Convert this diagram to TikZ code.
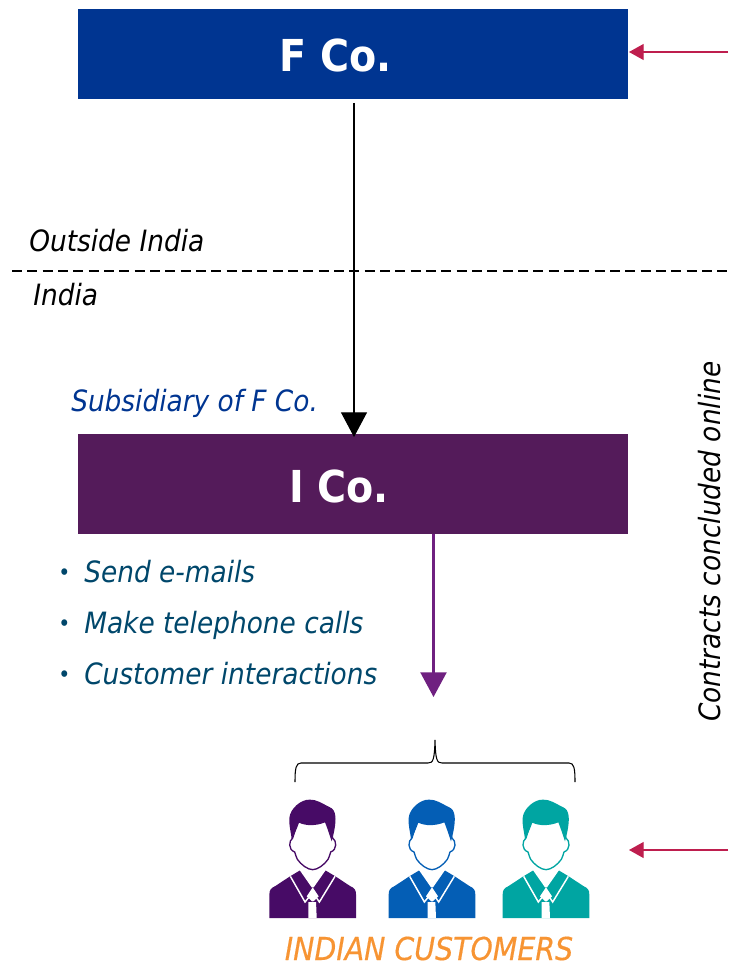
\documentclass[tikz,border=0pt]{standalone}
\usepackage{fontspec}
\setmainfont{DejaVu Sans Condensed}
\usetikzlibrary{arrows.meta}
\definecolor{fblue}{HTML}{003591}
\definecolor{ipurple}{HTML}{541B5A}
\definecolor{arrowpurple}{HTML}{6F2080}
\definecolor{crimson}{HTML}{BE1E4E}
\definecolor{bullettxt}{HTML}{00476B}
\definecolor{custorange}{HTML}{F79433}
\definecolor{pone}{HTML}{470B66}
\definecolor{ptwo}{HTML}{045EB5}
\definecolor{pthree}{HTML}{00A5A2}
\newcommand{\smallbullet}{\raisebox{1pt}{\fontsize{17}{20}\selectfont •}\hspace{10.5pt}}
\tikzset{
  x=0.75pt,y=-0.75pt,
  cobox/.style={rectangle,minimum width=412.5pt,inner sep=0pt,text=white},
  cotext/.style={inner sep=0pt,anchor=base,text=white,font=\fontsize{33}{36}\selectfont\bfseries},
  itlabel/.style={inner sep=0pt,anchor=base west,font=\fontsize{22}{26}\selectfont\itshape},
  bulletlabel/.style={itlabel,text=bullettxt},
  bigarrow/.style={-{Triangle[length=18.5pt,width=19.5pt]}},
  redarrow/.style={crimson,line width=0.9pt,-{Triangle[length=11pt,width=12pt]}},
}
\newcommand{\personicon}[3]{%
 \begin{scope}[shift={(#1,#2)},x=0.25pt,y=0.25pt]
  % body
  \fill[#3] (-130,0) -- (-130,70) .. controls (-130,85) and (-125,90) .. (-112,96) -- (-68,125) -- (-38,143) -- (38,143) -- (68,125) -- (112,96) .. controls (125,90) and (130,85) .. (130,70) -- (130,0) -- cycle;
  % neck and shirt
  \fill[white] (-40,145) -- (-3,92) -- (3,92) -- (40,145) -- cycle;
  % collar lines
  \draw[white,line width=1.1pt] (-67,125) -- (-23,48) -- (-3,73);
  \draw[white,line width=1.1pt] (67,125) -- (20,48) -- (3,73);
  % tie
  \fill[white] (0,92) -- (-18,65) -- (-2,50) -- (2,50) -- (18,65) -- cycle;
  \fill[white] (-13,48) -- (10,48) -- (12,0) -- (-13,0) -- cycle;
  % head
  \filldraw[fill=white,draw=#3,line width=1pt] (-60,240) .. controls (-72,232) and (-74,205) .. (-54,198) .. controls (-50,188) and (-50,182) .. (-46,176) .. controls (-35,160) and (-15,145) .. (0,145) .. controls (15,145) and (35,160) .. (46,176) .. controls (50,182) and (50,188) .. (54,198) .. controls (74,205) and (72,232) .. (60,240) -- (45,290) -- (-45,290) -- cycle;
  % hair
  \fill[#3] (-63,236) .. controls (-66,262) and (-72,280) .. (-70,300) .. controls (-68,328) and (-35,356) .. (-10,355) .. controls (15,355) and (25,345) .. (50,333) .. controls (62,328) and (66,320) .. (68,305) .. controls (70,285) and (64,255) .. (57,230) .. controls (50,250) and (44,270) .. (37,287) .. controls (10,276) and (-20,276) .. (-41,286) .. controls (-47,270) and (-55,250) .. (-63,236) -- cycle;
 \end{scope}}
\begin{document}
\begin{tikzpicture}
\useasboundingbox (0,0) rectangle (728,962);
\node[cobox,fill=fblue,minimum height=67.5pt] (fco) at (353,54) {};
\node[cotext] (fcot) at (336,72) {F Co.};
\node[cobox,fill=ipurple,minimum height=75pt] (ico) at (353,484) {};
\node[cotext] (icot) at (339,502) {I Co.};

\coordinate (fout) at (354,103);
\coordinate (iin) at (354,437);
\draw[line width=0.8pt,bigarrow] (fout) -- (iin);

\coordinate (dashl) at (12,271);
\coordinate (dashr) at (728,271);
\draw[line width=1.1pt,dash pattern=on 7.5pt off 4pt] (dashl) -- (dashr);
\node[itlabel] (outside) at (29,252) {Outside India};
\node[itlabel] (india) at (33,305) {India};
\node[itlabel,text=fblue] (subs) at (71,411) {Subsidiary of F Co.};

\coordinate (iout) at (433.5,534);
\coordinate (cust) at (433.5,697);
\draw[arrowpurple,line width=1.6pt,bigarrow] (iout) -- (cust);

\node[bulletlabel] (b1) at (58,582) {\smallbullet Send e-mails};
\node[bulletlabel] (b2) at (58,633) {\smallbullet Make telephone calls};
\node[bulletlabel] (b3) at (58,684) {\smallbullet Customer interactions};

\coordinate (ra) at (728,52);
\coordinate (rat) at (629,52);
\coordinate (rb) at (728,850);
\coordinate (rbt) at (629,850);
\draw[redarrow] (ra) -- (rat);
\draw[redarrow] (rb) -- (rbt);

\node[itlabel,rotate=90] (online) at (720,722) {Contracts concluded online};

\draw[line width=0.8pt] (295,782) .. controls (295,768) and (296,763) .. (301,763) -- (428,763) .. controls (433,763) and (434.5,760) .. (435,740) .. controls (435.5,760) and (437,763) .. (442,763) -- (569,763) .. controls (574,763) and (575,768) .. (575,782);

\personicon{312.7}{918}{pone}
\personicon{432}{918}{ptwo}
\personicon{546}{918}{pthree}

\node[itlabel,font=\fontsize{23.7}{26}\selectfont\itshape\addfontfeature{FakeBold=0.4},text=custorange,anchor=base] (indian) at (429,960) {INDIAN CUSTOMERS};
\end{tikzpicture}
\end{document}
